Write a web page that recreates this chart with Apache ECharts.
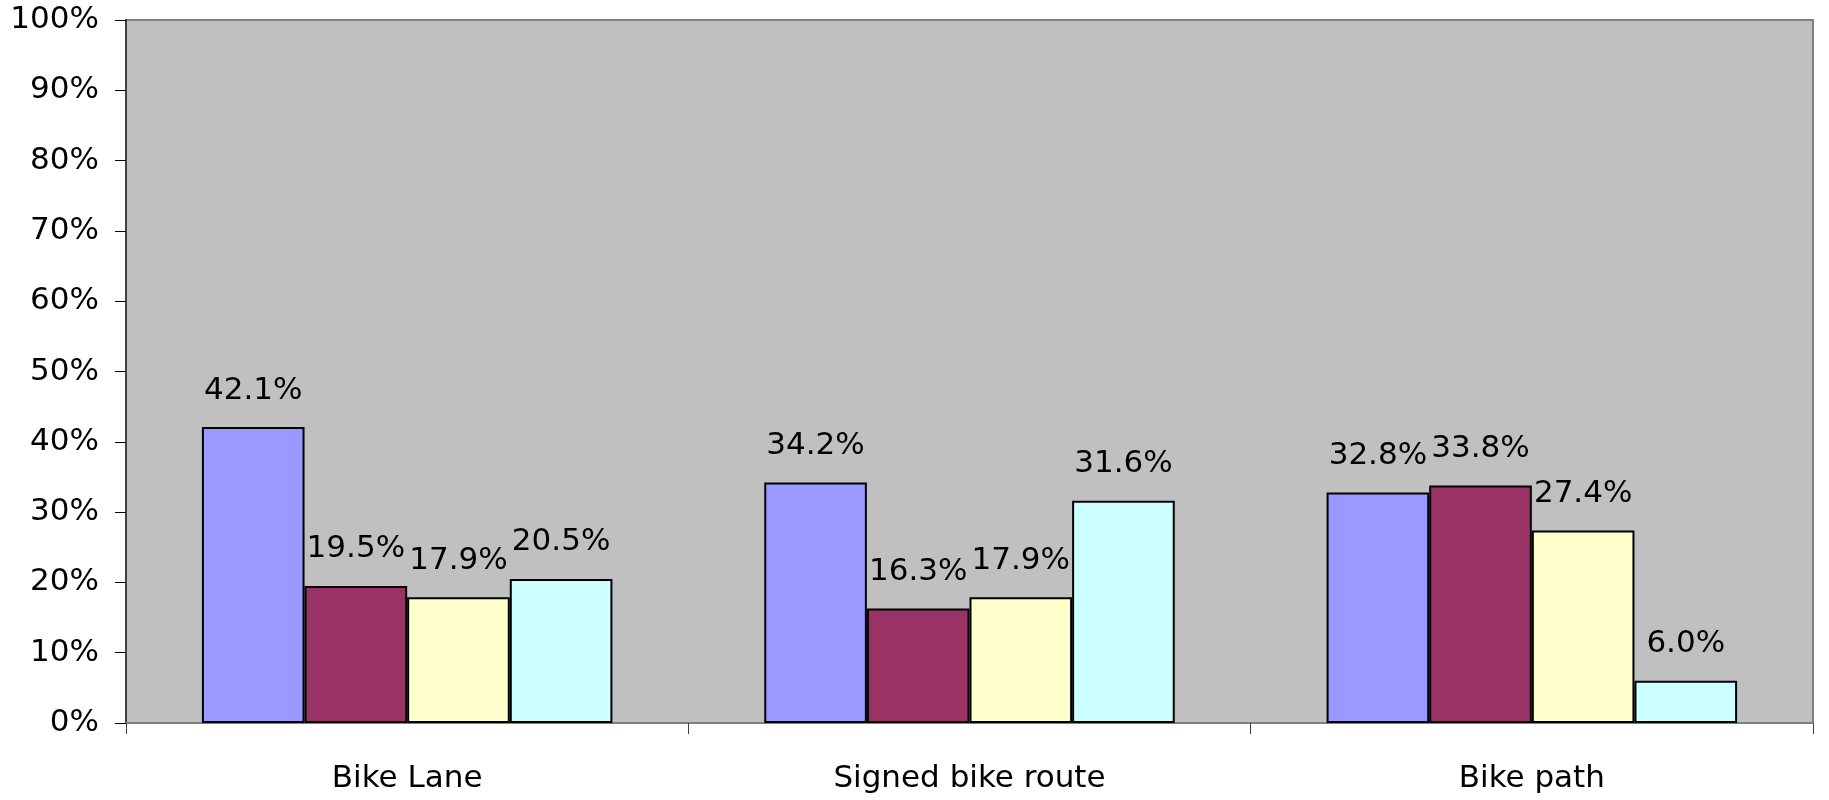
<!DOCTYPE html>
<html><head><meta charset="utf-8">
<script src="https://cdn.jsdelivr.net/npm/echarts@6/dist/echarts.min.js"></script>
<style>html,body{margin:0;padding:0;background:#fff}#c{width:1829px;height:800px}</style>
</head><body><div id="c"></div>
<script>
const categories = ['Bike Lane', 'Signed bike route', 'Bike path'];
const seriesNames = ['Series 1', 'Series 2', 'Series 3', 'Series 4'];
const series1 = [42.1, 34.2, 32.8];
const series2 = [19.5, 16.3, 33.8];
const series3 = [17.9, 17.9, 27.4];
const series4 = [20.5, 31.6, 6.0];
const colors = ['#9999FF', '#993366', '#FFFFCC', '#CCFFFF'];
const FONT = 'DejaVu Sans';

const chart = echarts.init(document.getElementById('c'));
const allData = [series1, series2, series3, series4];
chart.setOption({
  animation: false,
  grid: {left: 126, right: 16, top: 20, bottom: 77, show: true, backgroundColor: '#C0C0C0', borderColor: '#808080', borderWidth: 2},
  xAxis: {
    type: 'category', data: categories,
    axisLine: {lineStyle: {color: '#808080', width: 2}},
    axisTick: {show: true, length: 11, lineStyle: {color: '#404040', width: 1}},
    axisLabel: {color: '#000', fontFamily: FONT, fontSize: 31, margin: 40}
  },
  yAxis: {
    type: 'value', min: 0, max: 100, interval: 10,
    splitLine: {show: false},
    axisLine: {show: true, lineStyle: {color: '#404040', width: 2}},
    axisTick: {show: true, length: 11, lineStyle: {color: '#000', width: 1}},
    axisLabel: {color: '#000', fontFamily: FONT, fontSize: 31, margin: 27, formatter: '{value}%'}
  },
  series: allData.map((d, i) => ({
    name: seriesNames[i], type: 'bar', data: d,
    barGap: '0%', barCategoryGap: '27%',
    itemStyle: {color: colors[i], borderColor: '#000', borderWidth: 2},
    label: {show: true, position: 'top', distance: 21, color: '#000', fontFamily: FONT, fontSize: 31,
      formatter: p => p.value.toFixed(1) + '%'}
  }))
});
</script></body></html>
